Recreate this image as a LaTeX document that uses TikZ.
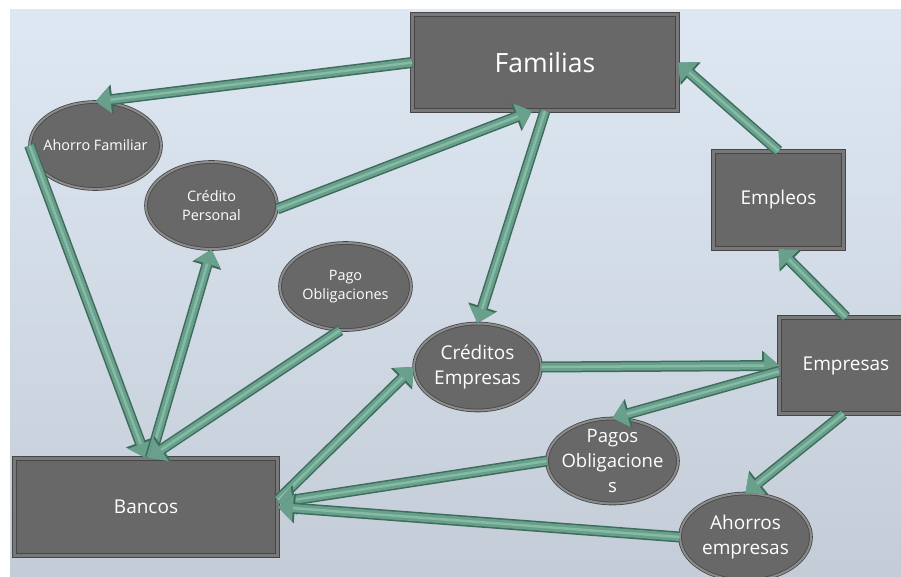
\documentclass[tikz,border=0pt]{standalone}
\usepackage{fontspec}
\setmainfont{Open Sans}
\usetikzlibrary{arrows.meta, shapes.geometric}

\definecolor{bgtop}{RGB}{222,232,243}
\definecolor{bgbot}{RGB}{196,205,215}
\definecolor{boxfill}{RGB}{104,104,104}
\definecolor{boxedge}{RGB}{70,70,70}
\definecolor{boxbevel}{RGB}{120,120,120}
\definecolor{ellring}{RGB}{140,140,140}
\definecolor{arrfill}{RGB}{104,160,140}
\definecolor{arredge}{RGB}{62,108,92}
\definecolor{arrlight}{RGB}{132,186,166}

\tikzset{
  box/.style={rectangle, fill=boxfill, draw=boxedge, line width=0.8pt, double=boxbevel, double distance=3.5pt, text=white, inner sep=0pt, align=center},
  bubble/.style={ellipse, fill=boxfill, draw=boxedge, line width=0.8pt, double=ellring, double distance=2pt, text=white, inner sep=-15pt, align=center, minimum width=131pt, minimum height=87pt},
  small/.style={font=\fontsize{14.4}{19}\selectfont},
  big/.style={font=\fontsize{19}{25}\selectfont},
  flow/.style={draw=arrfill, line width=8pt, -{Triangle[length=15pt,width=26pt]},
    preaction={draw=arredge, line width=11pt, -{Triangle[length=17pt,width=29pt]}},
    postaction={draw=arrlight, line width=2.5pt, -, shorten >=15pt}},
}

\begin{document}
\begin{tikzpicture}[x=1pt,y=1pt,yscale=-1]
    \useasboundingbox (0,0) rectangle (901,577);
    % background
    \shade[top color=bgtop, bottom color=bgbot] (10,10) rectangle (901,577);

    % boxes
    \node[box, minimum width=265pt, minimum height=96pt, font=\fontsize{26.5}{30}\selectfont] (fam) at (545,62.5) {Familias};
    \node[box, big, minimum width=130pt, minimum height=97pt] (empl) at (778.5,200) {Empleos};
    \node[box, big, minimum width=133pt, minimum height=96pt] (empr) at (846,365.5) {Empresas};
    \node[box, big, minimum width=263pt, minimum height=97pt] (banc) at (146,507) {Bancos};

    % ellipses
    \node[bubble, small] (ahf) at (95.5,145.5) {Ahorro Familiar};
    \node[bubble, small] (crp) at (211.5,205.5) {Crédito\\Personal};
    \node[bubble, small] (pob) at (345.5,286.5) {Pago\\Obligaciones};
    \node[bubble, big, minimum width=127pt] (cre) at (477.5,367) {Créditos\\Empresas};
    \node[bubble, font=\fontsize{18.5}{25}\selectfont, minimum height=85pt] (pgo) at (612.5,461) {Pagos\\Obligacione\\s};
    \node[bubble, big] (ahe) at (745.5,537) {Ahorros\\empresas};

    % flows
    \draw[flow] (fam.west) -- (ahf.north);
    \draw[flow] (crp.-3) -- (fam.-105);
    \draw[flow] (fam.south) -- (cre.north);
    \draw[flow] (ahf.west) -- (banc.north);
    \draw[flow] (banc.85) -- (crp.south);
    \draw[flow] (pob.-97) -- (banc.87);
    \draw[flow] (banc.3) -- (cre.west);
    \draw[flow] (pgo.west) -- (banc.2);
    \draw[flow] (ahe.west) -- (banc.east);
    \draw[flow] (cre.east) -- (empr.west);
    \draw[flow] (empr.185) -- (pgo.north);
    \draw[flow] (empr.-93) -- (ahe.north);
    \draw[flow] (empr.north) -- (empl.south);
    \draw[flow] (empl.north) -- (fam.east);
\end{tikzpicture}
\end{document}
